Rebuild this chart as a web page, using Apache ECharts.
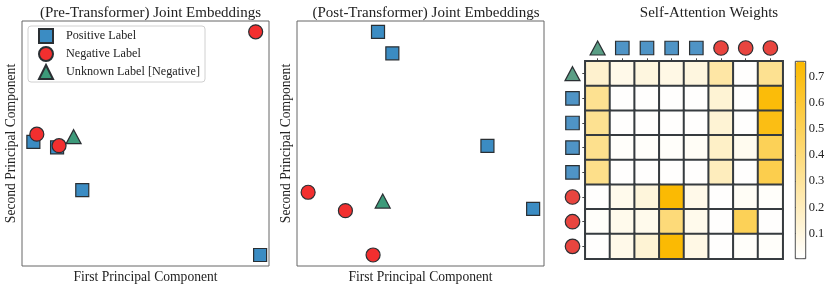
<!DOCTYPE html>
<html><head><meta charset="utf-8">
<script src="https://cdn.jsdelivr.net/npm/echarts@6/dist/echarts.min.js"></script>
<style>html,body{margin:0;padding:0;background:#fff}#c{width:830px;height:289px}</style>
</head><body><div id="c"></div>
<script>
// ---- data ----
var preSquares = [[4.6,50.7],[14.2,48.4],[24.4,31.0],[96.4,4.5]];
var preCircles = [[6.0,53.8],[15.0,49.1],[94.6,95.6]];
var preTriangle = [[20.9,52.8]];
var postSquares = [[32.8,95.6],[38.6,86.8],[77.1,49.0],[95.6,23.3]];
var postCircles = [[4.5,30.1],[19.6,22.6],[30.8,4.5]];
var postTriangle = [[34.7,26.5]];
var tokenTypes = ['triangle','square','square','square','square','circle','circle','circle'];
var attnRows = [
  [0.15,0.07,0.10,0.08,0.10,0.27,0.01,0.33],
  [0.33,0.01,0.01,0.01,0.01,0.13,0.01,0.73],
  [0.33,0.01,0.01,0.01,0.01,0.13,0.01,0.70],
  [0.34,0.02,0.02,0.02,0.03,0.17,0.05,0.50],
  [0.35,0.01,0.01,0.01,0.01,0.20,0.01,0.53],
  [0.01,0.06,0.11,0.75,0.07,0.01,0.03,0.02],
  [0.02,0.06,0.06,0.40,0.06,0.01,0.50,0.01],
  [0.01,0.07,0.13,0.75,0.08,0.01,0.02,0.02]
];
var cbTicks = [0.1,0.2,0.3,0.4,0.5,0.6,0.7];
var cbMin = 0.004, cbMax = 0.758;

// ---- styles ----
var FONT = 'Liberation Serif';
var BLUE = '#3b8cc3', RED = '#f22f2f', GREEN = '#3d9a7a';
var hBLUE = '#4f94c6', hRED = '#e8453f', hGREEN = '#5a9e85';
var EDGE = '#2a2f33';
var iconColor = {triangle:hGREEN, square:hBLUE, circle:hRED};
var iconSymbol = {triangle:'triangle', square:'rect', circle:'circle'};
var iconSize = {triangle:[15,14], square:13.5, circle:14.5};

var heatData = [];
attnRows.forEach(function(row, r){ row.forEach(function(v, c){ heatData.push([c, r, v]); }); });
var cats = tokenTypes.map(function(t,i){ return String(i); });
var topIcons = tokenTypes.map(function(t,i){
  return {value:[i,0], symbol:iconSymbol[t], symbolSize:iconSize[t], itemStyle:{color:iconColor[t], opacity:1}};
});
var leftIcons = tokenTypes.map(function(t,i){
  return {value:[0,i], symbol:iconSymbol[t], symbolSize:iconSize[t], itemStyle:{color:iconColor[t], opacity:1}};
});

function scatterAxes(i){
  return {
    x: {gridIndex:i, type:'value', min:0, max:100, axisLine:{show:false}, axisTick:{show:false}, axisLabel:{show:false}, splitLine:{show:false},
        name:'First Principal Component', nameLocation:'middle', nameGap:4, nameTextStyle:{fontFamily:FONT, fontSize:13.6, color:'#222'}},
    y: {gridIndex:i, type:'value', min:0, max:100, axisLine:{show:false}, axisTick:{show:false}, axisLabel:{show:false}, splitLine:{show:false},
        name:'Second Principal Component', nameLocation:'middle', nameGap:4, nameTextStyle:{fontFamily:FONT, fontSize:13.6, color:'#222'}}
  };
}
var a0 = scatterAxes(0), a1 = scatterAxes(1);
function sc(name, xi, data, sym, size, color){
  return {type:'scatter', name:name, xAxisIndex:xi, yAxisIndex:xi, data:data, symbol:sym, symbolSize:size,
          itemStyle:{color:color, borderColor:EDGE, borderWidth:1.2, opacity:1}, emphasis:{disabled:true}, animation:false};
}
function g(o){ o.outerBoundsMode = 'none'; o.containLabel = false; return o; }

var option = {
  animation:false,
  backgroundColor:'#fff',
  title:[
    {text:'(Pre-Transformer) Joint Embeddings', left:145.5, top:1, textAlign:'center', textStyle:{fontFamily:FONT, fontSize:15, fontWeight:'normal', color:'#222'}},
    {text:'(Post-Transformer) Joint Embeddings', left:421, top:1, textAlign:'center', textStyle:{fontFamily:FONT, fontSize:15, fontWeight:'normal', color:'#222'}},
    {text:'Self-Attention Weights', left:704, top:1, textAlign:'center', textStyle:{fontFamily:FONT, fontSize:15, fontWeight:'normal', color:'#222'}}
  ],
  legend:{
    data:['Positive Label','Negative Label','Unknown Label [Negative]'],
    orient:'vertical', left:28, top:26, padding:[2,5,2,10], itemGap:2, itemWidth:14, itemHeight:14,
    borderColor:'#d0d0d0', borderWidth:1, borderRadius:3,
    textStyle:{fontFamily:FONT, fontSize:12.2, lineHeight:13, color:'#222', padding:[0,0,0,8]},
    selectedMode:false
  },
  grid:[
    g({left:22, top:21, width:247, height:245, show:true, borderColor:'#666', borderWidth:1, backgroundColor:'transparent'}),
    g({left:297, top:21, width:247, height:245, show:true, borderColor:'#666', borderWidth:1, backgroundColor:'transparent'}),
    g({left:585.3, top:61.3, width:197.4, height:197.4, show:true, borderColor:'#999', borderWidth:1.5, backgroundColor:'transparent'}),
    g({left:585.3, top:40, width:197.4, height:16}),
    g({left:563, top:61.3, width:19, height:197.4}),
    g({left:795.3, top:61.3, width:10.4, height:197.4, show:true, borderColor:'#444', borderWidth:1, backgroundColor:'transparent'})
  ],
  xAxis:[
    a0.x, a1.x,
    {gridIndex:2, type:'category', data:cats, position:'top', axisLine:{show:false}, axisLabel:{show:false},
     axisTick:{show:true, alignWithLabel:true, length:3, lineStyle:{color:'#444'}}, splitLine:{show:false}, splitArea:{show:false}},
    {gridIndex:3, type:'category', data:cats, show:false},
    {gridIndex:4, type:'value', min:-1, max:1, show:false},
    {gridIndex:5, type:'value', min:0, max:1, show:false}
  ],
  yAxis:[
    a0.y, a1.y,
    {gridIndex:2, type:'category', data:cats, inverse:true, axisLine:{show:false}, axisLabel:{show:false},
     axisTick:{show:true, alignWithLabel:true, length:3, lineStyle:{color:'#444'}}, splitLine:{show:false}, splitArea:{show:false}},
    {gridIndex:3, type:'value', min:-1, max:1, show:false},
    {gridIndex:4, type:'category', data:cats, inverse:true, show:false},
    {gridIndex:5, type:'value', min:cbMin, max:cbMax, position:'right', axisLine:{show:false}, splitLine:{show:false},
     axisTick:{show:true, length:3, customValues:cbTicks, lineStyle:{color:'#444'}},
     axisLabel:{show:true, customValues:cbTicks, margin:3, fontFamily:FONT, fontSize:12.5, color:'#222', formatter:function(v){return String(Math.round(v*10)/10);}}}
  ],
  visualMap:{
    type:'continuous', seriesIndex:6, dimension:2, min:cbMin, max:cbMax, calculable:false, show:true,
    left:795.8, top:61.8, itemWidth:9.4, itemHeight:196.4, padding:0, text:null, showLabel:false,
    inRange:{color:['#ffffff','#fbb900']}
  },
  series:[
    sc('Positive Label', 0, preSquares, 'rect', 13, BLUE),
    sc('Negative Label', 0, preCircles, 'circle', 14, RED),
    sc('Unknown Label [Negative]', 0, preTriangle, 'triangle', [15,14], GREEN),
    sc('Positive Label', 1, postSquares, 'rect', 13, BLUE),
    sc('Negative Label', 1, postCircles, 'circle', 14, RED),
    sc('Unknown Label [Negative]', 1, postTriangle, 'triangle', [15,14], GREEN),
    {type:'heatmap', xAxisIndex:2, yAxisIndex:2, data:heatData, itemStyle:{borderColor:'#363b3f', borderWidth:2}, emphasis:{disabled:true}, animation:false},
    {type:'scatter', xAxisIndex:3, yAxisIndex:3, data:topIcons, itemStyle:{borderColor:EDGE, borderWidth:1.2, opacity:1}, emphasis:{disabled:true}, silent:true, animation:false},
    {type:'scatter', xAxisIndex:4, yAxisIndex:4, data:leftIcons, itemStyle:{borderColor:EDGE, borderWidth:1.2, opacity:1}, emphasis:{disabled:true}, silent:true, animation:false}
  ]
};
var chart = echarts.init(document.getElementById('c'), null, {renderer:'canvas'});
chart.setOption(option);
</script></body></html>
